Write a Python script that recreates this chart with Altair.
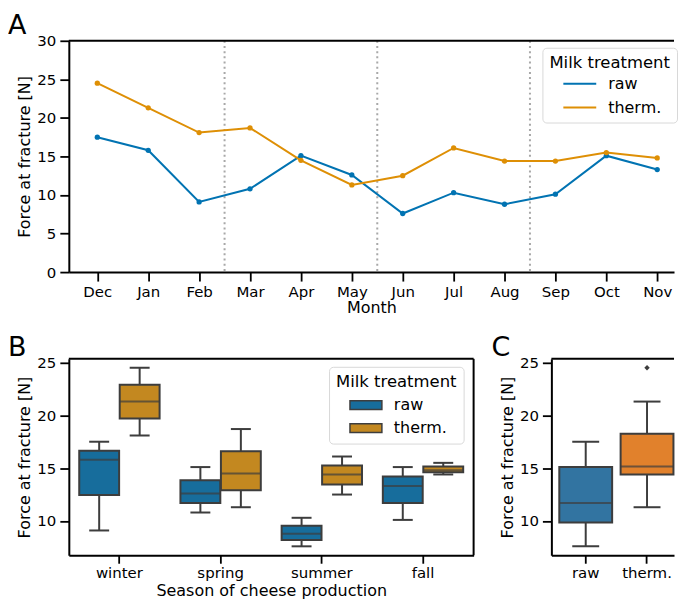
import json
import altair as alt
import pandas as pd

# ---------------- data ----------------
months = ["Dec", "Jan", "Feb", "Mar", "Apr", "May", "Jun", "Jul", "Aug", "Sep", "Oct", "Nov"]
month_season = ["winter", "winter", "winter", "spring", "spring", "spring",
                "summer", "summer", "summer", "fall", "fall", "fall"]
season_order = ["winter", "spring", "summer", "fall"]
treatments = ["raw", "therm."]
force_raw = [17.5, 15.8, 9.1, 10.8, 15.1, 12.6, 7.6, 10.3, 8.8, 10.1, 15.1, 13.3]
force_therm = [24.5, 21.3, 18.1, 18.7, 14.5, 11.3, 12.5, 16.1, 14.4, 14.4, 15.5, 14.8]

line_colors = ["#0173B2", "#DE8F05"]
box_colors_b = ["#176D9C", "#C38820"]
box_colors_c = ["#3274A1", "#E1812C"]
GRAY = "#3d3d3d"
FONT = "DejaVu Sans"

rows = []
for t, vals in zip(treatments, [force_raw, force_therm]):
    for i, (m, s, v) in enumerate(zip(months, month_season, vals)):
        rows.append({"idx": i, "month": m, "season": s, "treatment": t, "force": v})
df = pd.DataFrame(rows)

# season boundaries (between the last month of one season and the first of the next)
bounds = [i - 0.5 for i in range(1, len(months)) if month_season[i] != month_season[i - 1]]
df_bounds = pd.DataFrame({"pos": bounds})

one = alt.Data(values=[{}])


def letter(txt, dx, dy):
    return alt.Chart(one).mark_text(text=txt, fontSize=27, font=FONT, align="left",
                                    baseline="alphabetic", color="black").encode(
        x=alt.value(dx), y=alt.value(dy))


# ---------------- panel A ----------------
WA, HA = 607, 232
label_expr = json.dumps(months) + "[datum.value]"

xa = alt.X("idx:Q",
           scale=alt.Scale(domain=[-0.56, 11.33], nice=False, zero=False),
           axis=alt.Axis(values=list(range(len(months))), labelExpr=label_expr, title="Month",
                         titlePadding=1))
ya = alt.Y("force:Q", scale=alt.Scale(domain=[0, 30], nice=False),
           axis=alt.Axis(values=[0, 5, 10, 15, 20, 25, 30], title="Force at fracture [N]"))

rules_a = alt.Chart(df_bounds).mark_rule(color="#a8a8a8", strokeWidth=2, strokeDash=[2, 3.2]).encode(
    x=alt.X("pos:Q"))
lines_a = alt.Chart(df).mark_line(strokeWidth=2, point=alt.OverlayMarkDef(size=28, filled=True, opacity=1)).encode(
    x=xa, y=ya,
    color=alt.Color("treatment:N", sort=treatments,
                    scale=alt.Scale(domain=treatments, range=line_colors),
                    legend=alt.Legend(title="Milk treatment", orient="none", legendX=475, legendY=7,
                                      symbolType="M-2,0H2", symbolSize=272, symbolStrokeWidth=2,
                                      symbolOpacity=1, symbolOffset=21, labelOffset=19,
                                      titlePadding=3, rowPadding=6)))
top_a = alt.Chart(one).mark_rule(color="black", strokeWidth=2).encode(
    x=alt.value(0), x2=alt.value(WA), y=alt.value(0))

chart_a = alt.layer(rules_a, lines_a, top_a, letter("A", -61, -7)).properties(width=WA, height=HA)

# ---------------- panel B ----------------
WB, HB = 406, 197
ydom = [6.755, 25.345]
yb = alt.Y("force:Q", scale=alt.Scale(domain=ydom, nice=False, zero=False),
           axis=alt.Axis(values=[10, 15, 20, 25], title="Force at fracture [N]"))

box_parts = dict(
    box={"stroke": GRAY, "strokeWidth": 2},
    median={"color": GRAY, "thickness": 2},
    rule={"color": GRAY, "strokeWidth": 2},
)

box_b = alt.Chart(df).mark_boxplot(extent=1.5, size=40, ticks={"color": GRAY, "size": 20, "thickness": 2},
                                   outliers=False, **box_parts).encode(
    x=alt.X("season:N", sort=season_order,
            scale=alt.Scale(type="band", paddingInner=0.2, paddingOuter=0.1),
            axis=alt.Axis(labelAngle=0, title="Season of cheese production",
                          tickSize=8, labelPadding=2, titlePadding=2)),
    xOffset=alt.XOffset("treatment:N", sort=treatments,
                        scale=alt.Scale(domain=treatments, paddingInner=0, paddingOuter=0)),
    y=yb,
    color=alt.Color("treatment:N", sort=treatments,
                    scale=alt.Scale(domain=treatments, range=box_colors_b),
                    legend=alt.Legend(title="Milk treatment", orient="none", legendX=261, legendY=8,
                                      symbolType="M-2,-0.55H2V0.55H-2Z", symbolSize=256,
                                      symbolStrokeColor=GRAY, symbolStrokeWidth=1.5, symbolOpacity=1,
                                      symbolOffset=21, labelOffset=19, titlePadding=6, rowPadding=6)))
top_b = alt.Chart(one).mark_rule(color="black", strokeWidth=2).encode(
    x=alt.value(0), x2=alt.value(WB), y=alt.value(0))
right_b = alt.Chart(one).mark_rule(color="black", strokeWidth=2).encode(
    x=alt.value(WB), y=alt.value(0), y2=alt.value(HB))

chart_b = alt.layer(box_b, top_b, right_b, letter("B", -61, -2.5)).properties(width=WB, height=HB)

# ---------------- panel C ----------------
WC, HC = 123, 197
xc = alt.X("treatment:N", sort=treatments,
           scale=alt.Scale(type="band", paddingInner=0.2, paddingOuter=0.1, align=0.8),
           axis=alt.Axis(labelAngle=0, title=None, tickSize=8, labelPadding=2))
box_c = alt.Chart(df).mark_boxplot(extent=1.5, size=53, ticks={"color": GRAY, "size": 27, "thickness": 2},
                                   outliers=False, **box_parts).encode(
    x=xc, y=yb,
    color=alt.Color("treatment:N", sort=treatments,
                    scale=alt.Scale(domain=treatments, range=box_colors_c), legend=None))
out_c = alt.Chart(df).transform_joinaggregate(
    q1="q1(force)", q3="q3(force)", groupby=["treatment"]
).transform_filter(
    "datum.force > datum.q3 + 1.5 * (datum.q3 - datum.q1) || datum.force < datum.q1 - 1.5 * (datum.q3 - datum.q1)"
).mark_point(shape="diamond", filled=True, size=30, color=GRAY, opacity=1).encode(x=xc, y=yb)
top_c = alt.Chart(one).mark_rule(color="black", strokeWidth=2).encode(
    x=alt.value(0), x2=alt.value(WC), y=alt.value(0))

chart_c = alt.layer(box_c, out_c, top_c, letter("C", -60, -2.5)).properties(width=WC, height=HC)

bottom = alt.hconcat(chart_b, chart_c, spacing=17).resolve_scale(color="independent", y="independent")

chart = alt.vconcat(chart_a, bottom, spacing=18).resolve_scale(color="independent").properties(
    padding={"left": 0, "top": 3, "right": 0, "bottom": 0}
).configure_view(stroke=None).configure_axis(
    labelFont=FONT, titleFont=FONT, labelFontSize=15, titleFontSize=16, titleFontWeight="normal",
    labelColor="black", titleColor="black", tickColor="black", domainColor="black",
    grid=False, tickSize=9, tickWidth=1.8, domainWidth=2, labelPadding=4
).configure_axisX(labelPadding=3).configure_axisY(titlePadding=4).configure_legend(
    titleFont=FONT, labelFont=FONT, titleFontSize=16.5, labelFontSize=16, titleFontWeight="normal",
    titleColor="black", labelColor="black", fillColor="white", strokeColor="#d8d8d8",
    cornerRadius=4, padding=7
)

chart.save("out.html", embed_options={"renderer": "svg", "actions": False})
